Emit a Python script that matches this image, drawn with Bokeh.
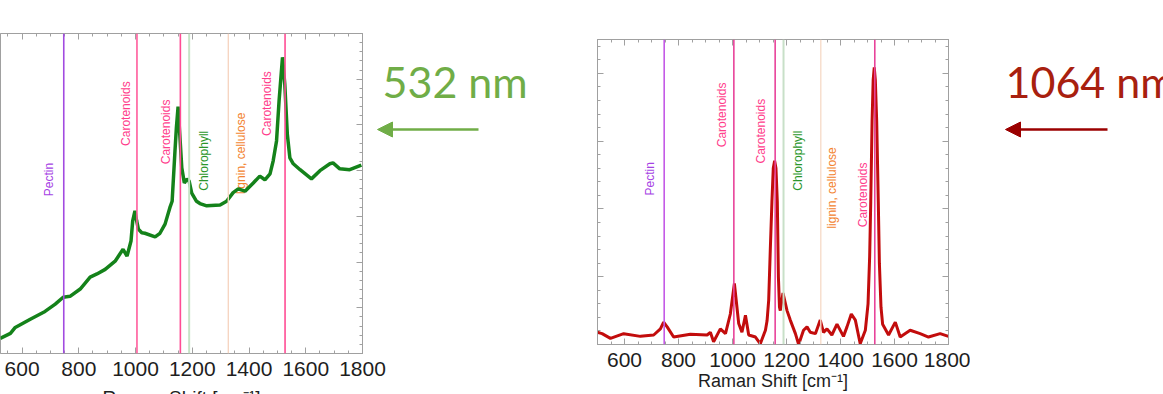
import math
from bokeh.plotting import figure
from bokeh.models import Range1d, LinearAxis, SingleIntervalTicker, Span, Arrow, NormalHead
from bokeh.layouts import row
from bokeh.embed import file_html
from bokeh.resources import INLINE
from bokeh.core.properties import value

# ---------------- data ----------------
# 532 nm spectrum (Raman shift cm-1, intensity a.u.)
shift_532 = [523, 559, 576, 629, 681, 717, 745, 769, 805, 840, 864, 893, 928, 956, 970, 984,
             990, 998, 1004, 1010, 1022, 1033, 1069, 1086, 1104, 1121, 1129, 1139, 1144, 1150,
             1163, 1172, 1182, 1189, 1198, 1215, 1227, 1251, 1298, 1321, 1344, 1362, 1386, 1415,
             1438, 1456, 1474, 1485, 1497, 1506, 1518, 1526, 1535, 1544, 1556, 1580, 1620, 1650,
             1685, 1696, 1720, 1755, 1796]
int_532 = [0.33, 0.44, 0.57, 0.75, 0.92, 1.08, 1.23, 1.25, 1.41, 1.67, 1.74, 1.84, 2.02, 2.28, 2.13, 2.46,
           2.90, 3.12, 2.90, 2.72, 2.64, 2.63, 2.55, 2.63, 2.83, 3.19, 3.33, 4.43, 4.94, 5.40,
           4.06, 3.73, 3.82, 3.77, 3.51, 3.33, 3.28, 3.23, 3.25, 3.33, 3.52, 3.60, 3.55, 3.73,
           3.88, 3.80, 3.93, 4.21, 4.65, 5.53, 6.48, 5.90, 4.80, 4.28, 4.15, 4.02, 3.82, 4.00,
           4.15, 4.17, 4.04, 4.02, 4.12]

# 1064 nm spectrum
shift_1064 = [499, 517, 548, 597, 659, 708, 733, 745, 758, 782, 844, 906, 918, 930, 955, 974,
              992, 1007, 1023, 1035, 1048, 1060, 1085, 1103, 1122, 1128, 1134, 1140, 1146, 1151,
              1156, 1161, 1166, 1170, 1174, 1177, 1187, 1202, 1214, 1233, 1245, 1263, 1276, 1288,
              1307, 1325, 1337, 1350, 1368, 1387, 1411, 1424, 1440, 1455, 1473, 1492, 1502, 1508,
              1512, 1517, 1521, 1525, 1529, 1534, 1540, 1544, 1550, 1556, 1578, 1603, 1621, 1658,
              1695, 1726, 1769, 1800]
int_1064 = [0.18, 0.16, 0.09, 0.16, 0.12, 0.14, 0.23, 0.33, 0.26, 0.11, 0.15, 0.14, 0.18, 0.04, 0.23, 0.16,
            0.45, 0.90, 0.31, 0.18, 0.43, 0.14, 0.11, 0.01, 0.21, 0.35, 0.65, 1.40, 2.10, 2.60,
            2.71, 2.60, 2.10, 1.00, 0.55, 0.50, 0.76, 0.50, 0.36, 0.16, 0.00, 0.21, 0.26, 0.18,
            0.16, 0.36, 0.18, 0.23, 0.14, 0.30, 0.12, 0.26, 0.45, 0.36, 0.01, 0.21, 0.60, 1.30,
            2.10, 3.30, 3.90, 4.09, 3.90, 3.30, 2.10, 1.20, 0.55, 0.30, 0.14, 0.33, 0.11, 0.21,
            0.16, 0.11, 0.16, 0.12]

# assigned bands
band_shift = [747, 1005, 1158, 1189, 1327, 1527]
band_name = ["Pectin", "Carotenoids", "Carotenoids", "Chlorophyll", "lignin, cellulose", "Carotenoids"]

x_title = "Raman Shift [cm\u207b\u00b9]"

# ---------------- styles ----------------
line_col_532 = ["#a24be0", "#ff5c9c", "#ff4c94", "#c6e4c6", "#f6d5c2", "#ff4c94"]
line_col_1064 = ["#c45ae6", "#e8439a", "#e8439a", "#c8e0c8", "#f7dccb", "#e8439a"]
text_col = ["#a642e4", "#ff3d8b", "#ff3d8b", "#2a962a", "#f3832f", "#ff3d8b"]
line_w = [1.6, 1.6, 1.6, 2.0, 1.4, 1.6]

lab_x_532 = [694, 965, 1109, 1243, 1373, 1465]
lab_y_532 = [3.44, 4.54, 4.14, 3.56, 3.49, 4.76]
lab_x_1064 = [696, 962, 1107, 1241, 1370, 1485]
lab_y_1064 = [2.20, 2.91, 2.67, 2.27, 1.71, 1.73]

FRAME = "#a0a0a0"
FONT = "Liberation Sans"
TOP = 33      # common top border (the row aligns plot borders)
BOTTOM = 63   # common bottom border
H1 = 416      # left panel: frame 33..353 (its axis title is cut by the window edge)
H2 = 401      # right panel, shifted down 6 px: frame 39..344


def make_axis(ticker, show_labels, size="21px", standoff=8, title=None, title_size="18px", title_standoff=0):
    ax = LinearAxis(ticker=ticker)
    ax.axis_line_color = FRAME
    ax.major_tick_line_color = FRAME
    ax.minor_tick_line_color = FRAME
    ax.major_tick_in = 6
    ax.major_tick_out = 0
    ax.minor_tick_in = 3
    ax.minor_tick_out = 0
    if show_labels:
        ax.major_label_text_font_size = size
        ax.major_label_text_font = FONT
        ax.major_label_text_color = "#1e1e1e"
        ax.major_label_standoff = standoff
    else:
        ax.major_label_text_font_size = "0px"
        ax.major_label_standoff = 0
    if title is not None:
        ax.axis_label = title
        ax.axis_label_text_font = FONT
        ax.axis_label_text_font_style = "normal"
        ax.axis_label_text_font_size = title_size
        ax.axis_label_text_color = "#1e1e1e"
        ax.axis_label_standoff = title_standoff
    return ax


def spectrum_fig(width, height, xr, yr, left, right, title_size, title_standoff, left_axis):
    p = figure(width=width, height=height, x_range=xr, y_range=yr,
               output_backend="svg", toolbar_location=None,
               x_axis_location=None, y_axis_location=None,
               min_border_left=left, min_border_right=right,
               min_border_top=TOP, min_border_bottom=BOTTOM)
    p.title.visible = False
    p.grid.visible = False
    p.outline_line_color = FRAME
    p.background_fill_color = "white"
    p.border_fill_color = None
    p.add_layout(make_axis(SingleIntervalTicker(interval=200, num_minor_ticks=4), True,
                           "21px", 8, x_title, title_size, title_standoff), "below")
    p.add_layout(make_axis(SingleIntervalTicker(interval=200, num_minor_ticks=4), False), "above")
    p.add_layout(make_axis(SingleIntervalTicker(interval=1, num_minor_ticks=5), False), "right")
    if left_axis:
        p.add_layout(make_axis(SingleIntervalTicker(interval=1, num_minor_ticks=5), False), "left")
    return p


def add_bands(p, line_cols, lab_x, lab_y):
    for s, c, w in zip(band_shift, line_cols, line_w):
        p.add_layout(Span(location=s, dimension="height", line_color=c, line_width=w))
    p.text(x=lab_x, y=lab_y, text=band_name, angle=math.pi / 2,
           text_align="left", text_baseline="middle",
           text_font=value(FONT), text_font_size="12px", text_color=text_col)


def note_fig(width, x0, label, color, arrow_color, text_x, text_y, ax0, ax1, ay):
    # frame spans page rows TOP..H1-BOTTOM, so data y equals page y
    a = figure(width=width, height=H1, x_range=Range1d(x0, x0 + width),
               y_range=Range1d(H1 - BOTTOM, TOP),
               output_backend="svg", toolbar_location=None, x_axis_location=None,
               y_axis_location=None, min_border_left=0, min_border_right=0,
               min_border_top=TOP, min_border_bottom=BOTTOM)
    a.title.visible = False
    a.grid.visible = False
    a.outline_line_color = None
    a.background_fill_color = None
    a.border_fill_color = None
    a.text(x=[text_x], y=[text_y], text=[label], text_font=value("Lato"), text_font_size="43px",
           text_color=color, text_align="left", text_baseline="middle")
    a.add_layout(Arrow(end=NormalHead(size=15, fill_color=arrow_color, line_color=arrow_color),
                       x_start=ax0, y_start=ay, x_end=ax1, y_end=ay,
                       line_color=arrow_color, line_width=2.5))
    return a


# ---- left panel: 532 nm ----  frame x 0..362, y 33..353
p1 = spectrum_fig(386, H1, Range1d(524, 1800), Range1d(0, 7), 0, 24, "19px", 8, False)
add_bands(p1, line_col_532, lab_x_532, lab_y_532)
p1.line(shift_532, int_532, line_color="#14821a", line_width=3.5)

# ---- annotation 532 nm ---- (overlaps the right border of p1, transparent)
a1 = note_fig(227, 362, "532 nm", "#70ad47", "#70ad47", 382, 81, 478, 377, 129)
a1.margin = (0, 0, 0, -24)

# ---- right panel: 1064 nm ----  frame x 597..948, y 39..344
p2 = spectrum_fig(381, H2, Range1d(500, 1800), Range1d(0, 4.5), 8, 22, "18px", 1, True)
p2.margin = (6, 0, 0, 0)
add_bands(p2, line_col_1064, lab_x_1064, lab_y_1064)
p2.line(shift_1064, int_1064, line_color="#c20c0c", line_width=3)

# ---- annotation 1064 nm ----
a2 = note_fig(193, 970, "1064 nm", "#a8200f", "#9b0000", 1005, 81, 1107, 1005, 129)

layout = row(p1, a1, p2, a2, spacing=0)
open("out.html", "w").write(file_html(layout, INLINE))
